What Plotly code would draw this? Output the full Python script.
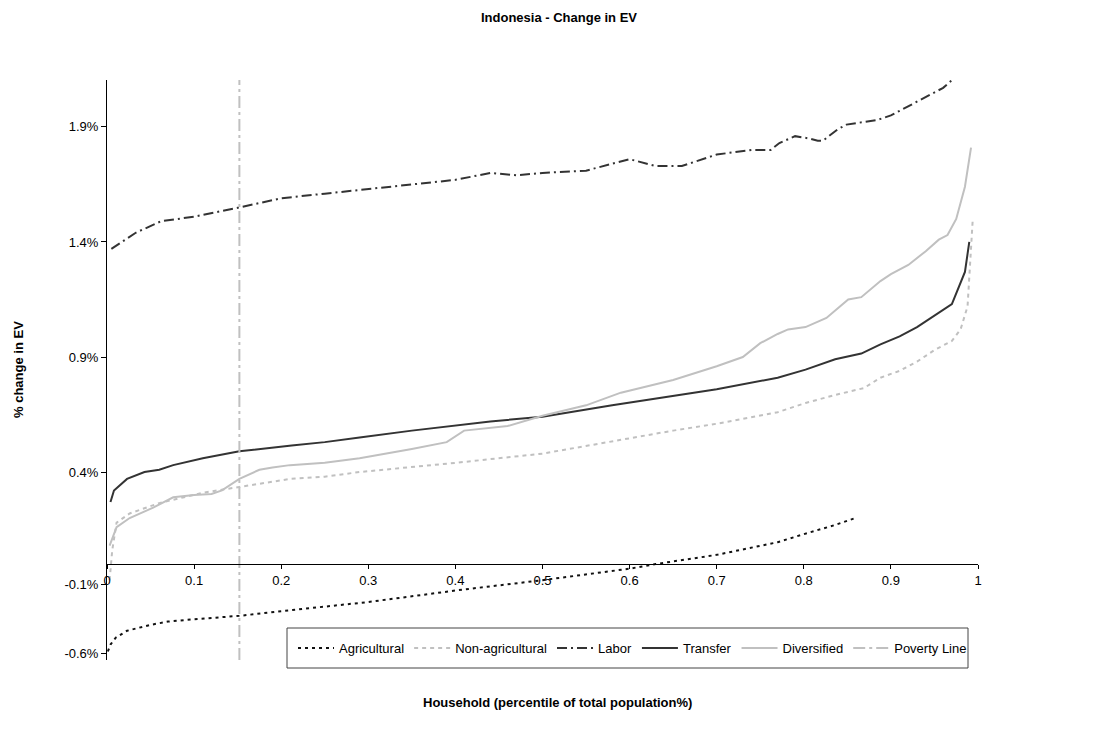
import plotly.graph_objects as go

# ---------------- data (x = percentile fraction, y = % change in EV) ----------------
agri_x = [0.001, 0.004, 0.01, 0.023, 0.049, 0.07, 0.1, 0.152, 0.2, 0.3, 0.4, 0.5, 0.6, 0.63, 0.7, 0.77, 0.8, 0.836, 0.859]
agri_y = [-0.38, -0.35, -0.32, -0.29, -0.265, -0.25, -0.24, -0.225, -0.205, -0.165, -0.115, -0.07, -0.02, 0.0, 0.04, 0.095, 0.13, 0.17, 0.20]

nonagri_x = [0.003, 0.006, 0.011, 0.026, 0.06, 0.11, 0.152, 0.21, 0.25, 0.29, 0.4, 0.5, 0.59, 0.65, 0.7, 0.77, 0.802, 0.836, 0.869, 0.888, 0.91, 0.93, 0.95, 0.97, 0.98, 0.988, 0.994]
nonagri_y = [-0.07, 0.06, 0.18, 0.22, 0.265, 0.31, 0.335, 0.37, 0.38, 0.40, 0.44, 0.48, 0.54, 0.58, 0.61, 0.66, 0.70, 0.735, 0.765, 0.81, 0.84, 0.88, 0.93, 0.97, 1.02, 1.12, 1.50]

labor_x = [0.005, 0.033, 0.062, 0.1, 0.152, 0.2, 0.25, 0.3, 0.35, 0.4, 0.44, 0.47, 0.5, 0.55, 0.6, 0.63, 0.66, 0.7, 0.74, 0.762, 0.772, 0.79, 0.806, 0.816, 0.822, 0.839, 0.849, 0.869, 0.884, 0.9, 0.92, 0.94, 0.96, 0.975]
labor_y = [1.37, 1.44, 1.49, 1.51, 1.55, 1.59, 1.61, 1.63, 1.65, 1.67, 1.70, 1.69, 1.70, 1.71, 1.76, 1.73, 1.73, 1.78, 1.80, 1.80, 1.83, 1.86, 1.85, 1.84, 1.84, 1.89, 1.91, 1.92, 1.93, 1.95, 1.99, 2.03, 2.07, 2.12]

transfer_x = [0.004, 0.008, 0.023, 0.043, 0.06, 0.076, 0.11, 0.152, 0.212, 0.25, 0.29, 0.35, 0.44, 0.5, 0.58, 0.65, 0.7, 0.77, 0.802, 0.836, 0.866, 0.888, 0.91, 0.93, 0.95, 0.97, 0.985, 0.99]
transfer_y = [0.27, 0.32, 0.37, 0.40, 0.41, 0.43, 0.46, 0.49, 0.515, 0.53, 0.55, 0.58, 0.62, 0.64, 0.69, 0.73, 0.76, 0.81, 0.845, 0.89, 0.915, 0.955, 0.99, 1.03, 1.08, 1.13, 1.27, 1.40]

divers_x = [0.003, 0.011, 0.026, 0.053, 0.076, 0.1, 0.12, 0.132, 0.152, 0.175, 0.19, 0.21, 0.25, 0.29, 0.35, 0.39, 0.41, 0.46, 0.5, 0.55, 0.59, 0.65, 0.7, 0.73, 0.75, 0.77, 0.782, 0.802, 0.826, 0.839, 0.851, 0.866, 0.879, 0.888, 0.9, 0.92, 0.94, 0.955, 0.965, 0.975, 0.985, 0.992]
divers_y = [0.08, 0.16, 0.20, 0.245, 0.29, 0.30, 0.305, 0.32, 0.37, 0.41, 0.42, 0.43, 0.44, 0.46, 0.50, 0.53, 0.58, 0.60, 0.645, 0.69, 0.745, 0.80, 0.86, 0.90, 0.96, 1.00, 1.02, 1.03, 1.07, 1.11, 1.15, 1.16, 1.20, 1.23, 1.26, 1.30, 1.36, 1.41, 1.43, 1.50, 1.64, 1.81]

Y_MIN, Y_MAX = -0.417, 2.104

poverty_x = [0.152, 0.152]
poverty_y = [Y_MIN, Y_MAX]

y_tick_vals = [-0.39, -0.087, 0.4, 0.9, 1.4, 1.9]
y_tick_text = ["-0.6%", "-0.1%", "0.4%", "0.9%", "1.4%", "1.9%"]
x_tick_vals = [0, 0.1, 0.2, 0.3, 0.4, 0.5, 0.6, 0.7, 0.8, 0.9, 1]
x_tick_text = ["0", "0.1", "0.2", "0.3", "0.4", "0.5", "0.6", "0.7", "0.8", "0.9", "1"]

FONT = "Liberation Sans, Arial, sans-serif"
DARK = "#333333"
LIGHT = "#c0c0c0"

W, H = 1110, 738
L, R, T, B = 99, 140, 72, 86
PW, PH = W - L - R, H - T - B


def px_x(px):  # page x (design) -> paper fraction
    return (px - L) / PW


def px_y(py):  # page y (design) -> paper fraction
    return (H - B - py) / PH


fig = go.Figure()
fig.add_trace(go.Scatter(x=agri_x, y=agri_y, mode="lines", name="Agricultural",
                         line=dict(color="#111111", width=2, dash="3px,4px")))
fig.add_trace(go.Scatter(x=nonagri_x, y=nonagri_y, mode="lines", name="Non-agricultural",
                         line=dict(color=LIGHT, width=2, dash="4px,4px")))
fig.add_trace(go.Scatter(x=labor_x, y=labor_y, mode="lines", name="Labor",
                         line=dict(color=DARK, width=2, dash="10px,4px,2px,4px")))
fig.add_trace(go.Scatter(x=transfer_x, y=transfer_y, mode="lines", name="Transfer",
                         line=dict(color=DARK, width=2)))
fig.add_trace(go.Scatter(x=divers_x, y=divers_y, mode="lines", name="Diversified",
                         line=dict(color=LIGHT, width=2)))
fig.add_trace(go.Scatter(x=poverty_x, y=poverty_y, mode="lines", name="Poverty Line",
                         line=dict(color=LIGHT, width=2, dash="12px,4px,3px,4px")))

fig.update_layout(
    width=W, height=H,
    margin=dict(l=L, r=R, t=T, b=B),
    paper_bgcolor="white", plot_bgcolor="white",
    font=dict(family=FONT, size=13, color="black"),
    title=dict(text="<b>Indonesia - Change in EV</b>", x=551 / W, xref="container", xanchor="center",
               y=1 - 9 / H, yref="container", yanchor="middle", font=dict(size=13, family=FONT)),
    xaxis=dict(range=[0, 1], tickvals=x_tick_vals, ticktext=x_tick_text,
               showgrid=False, zeroline=False, showline=True, linecolor="black", linewidth=1,
               ticks="outside", ticklen=4, tickcolor="black",
               anchor="free", position=(0 - Y_MIN) / (Y_MAX - Y_MIN),
               tickfont=dict(size=13)),
    yaxis=dict(range=[Y_MIN, Y_MAX], tickvals=y_tick_vals, ticktext=y_tick_text,
               showgrid=False, zeroline=False, showline=True, linecolor="black", linewidth=1,
               ticks="outside", ticklen=5, tickcolor="black",
               tickfont=dict(size=13)),
    legend=dict(orientation="h", x=px_x(285), y=px_y(640), xanchor="left", yanchor="middle",
                borderwidth=0, bgcolor="rgba(0,0,0,0)",
                font=dict(size=13), itemwidth=36),
    shapes=[dict(type="rect", xref="paper", yref="paper",
                 x0=px_x(279), x1=px_x(960), y0=px_y(660), y1=px_y(620),
                 line=dict(color="#444444", width=1), fillcolor="white", layer="above")],
    annotations=[
        dict(text="<b>Household (percentile of total population%)</b>",
             x=px_x(549), y=px_y(694), xref="paper", yref="paper", showarrow=False,
             xanchor="center", yanchor="middle", font=dict(size=13)),
        dict(text="<b>% change in EV</b>", textangle=-90,
             x=px_x(10), y=px_y(362), xref="paper", yref="paper", showarrow=False,
             xanchor="center", yanchor="middle", font=dict(size=13)),
    ],
)

fig.write_html("out.html")
